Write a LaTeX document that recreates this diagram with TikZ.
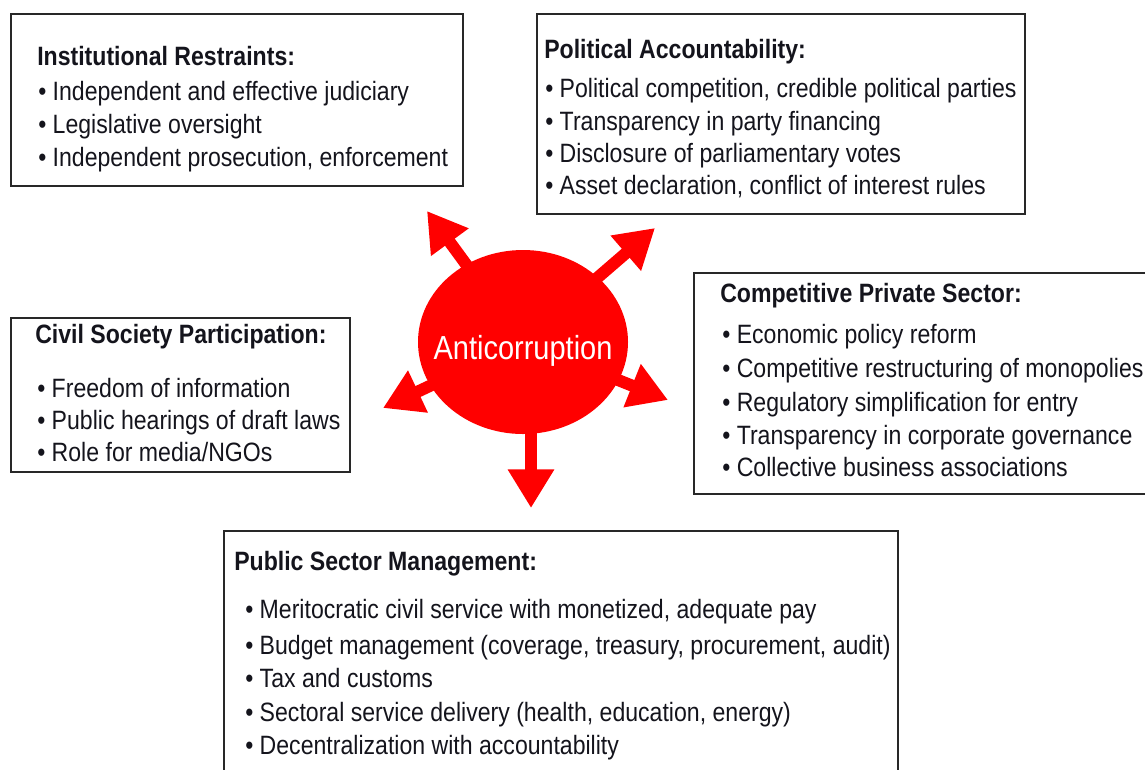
\documentclass[tikz,border=0pt]{standalone}
\usepackage{fontspec}
\setmainfont{Liberation Sans}[FakeStretch=0.87]
\usetikzlibrary{arrows.meta,shapes.geometric,backgrounds}
\definecolor{arrowred}{RGB}{255,0,0}
\definecolor{boxline}{RGB}{40,40,40}
\definecolor{txt}{RGB}{20,20,28}
\begin{document}
\begin{tikzpicture}[x=0.75pt,y=-0.75pt,
  box/.style={draw=boxline,line width=1.5pt,rectangle,anchor=north west,inner sep=0pt},
  head/.style={anchor=base west,inner sep=0pt,text=txt,font=\fontsize{19.9pt}{24pt}\selectfont\bfseries},
  item/.style={anchor=base west,inner sep=0pt,text=txt,font=\fontsize{19.9pt}{24pt}\selectfont},
  spoke/.style={draw=arrowred,line width=9pt,-{Triangle[width=33pt,length=29pt]}},
  hub/.style={ellipse,fill=arrowred,inner sep=0pt,minimum width=157.5pt,minimum height=138pt},
  hubtext/.style={inner sep=0pt,text=white,font=\fontsize{25pt}{30pt}\selectfont}
]
\useasboundingbox (0,0) rectangle (1145,769);
\clip (0,0) rectangle (1145,769);

% boxes
\node[box,minimum width=339pt,minimum height=129pt] (inst) at (10,13) {};
\node[box,minimum width=366pt,minimum height=150pt] (pol) at (536,13) {};
\node[box,minimum width=254.25pt,minimum height=115.5pt] (civ) at (10,317) {};
\node[box,minimum width=350.25pt,minimum height=165.75pt] (comp) at (693,272) {};
\node[box,minimum width=505.5pt,minimum height=195pt] (pub) at (223,530) {};

% Institutional Restraints
\node[head] (inst-h) at (37,65) {Institutional Restraints:};
\node[item] (inst-1) at (38,100) {\textbullet\ Independent and effective judiciary};
\node[item] (inst-2) at (38,133) {\textbullet\ Legislative oversight};
\node[item] (inst-3) at (38,166) {\textbullet\ Independent prosecution, enforcement};

% Political Accountability
\node[head] (pol-h) at (544,58) {Political Accountability:};
\node[item] (pol-1) at (545,97) {\textbullet\ Political competition, credible political parties};
\node[item] (pol-2) at (545,130) {\textbullet\ Transparency in party financing};
\node[item] (pol-3) at (545,162) {\textbullet\ Disclosure of parliamentary votes};
\node[item] (pol-4) at (545,194) {\textbullet\ Asset declaration, conflict of interest rules};

% Civil Society Participation
\node[head] (civ-h) at (35,343) {Civil Society Participation:};
\node[item] (civ-1) at (37,397) {\textbullet\ Freedom of information};
\node[item] (civ-2) at (37,429) {\textbullet\ Public hearings of draft laws};
\node[item] (civ-3) at (37,461) {\textbullet\ Role for media/NGOs};

% Competitive Private Sector
\node[head] (comp-h) at (720,302) {Competitive Private Sector:};
\node[item] (comp-1) at (722,343) {\textbullet\ Economic policy reform};
\node[item] (comp-2) at (722,377) {\textbullet\ Competitive restructuring of monopolies};
\node[item] (comp-3) at (722,411) {\textbullet\ Regulatory simplification for entry};
\node[item] (comp-4) at (722,444) {\textbullet\ Transparency in corporate governance};
\node[item] (comp-5) at (722,476) {\textbullet\ Collective business associations};

% Public Sector Management
\node[head] (pub-h) at (234,570) {Public Sector Management:};
\node[item] (pub-1) at (245,618) {\textbullet\ Meritocratic civil service with monetized, adequate pay};
\node[item] (pub-2) at (245,654) {\textbullet\ Budget management (coverage, treasury, procurement, audit)};
\node[item] (pub-3) at (245,687) {\textbullet\ Tax and customs};
\node[item] (pub-4) at (245,721) {\textbullet\ Sectoral service delivery (health, education, energy)};
\node[item] (pub-5) at (245,754) {\textbullet\ Decentralization with accountability};

% hub
\node[hub] (anti) at (523,342) {};
\node[hubtext] (anti-t) at (523,351) {Anticorruption};

% arrow tips
\coordinate (t1) at (427,211);
\coordinate (t2) at (655,228);
\coordinate (t3) at (383,408);
\coordinate (t4) at (668,400);
\coordinate (t5) at (531,508);

\begin{pgfonlayer}{background}
\draw[spoke] (anti.center) -- (t1);
\draw[spoke] (anti.center) -- (t2);
\draw[spoke] (anti.center) -- (t3);
\draw[spoke] (anti.center) -- (t4);
\draw[spoke] (t5 |- anti.center) -- (t5);
\end{pgfonlayer}
\end{tikzpicture}
\end{document}
